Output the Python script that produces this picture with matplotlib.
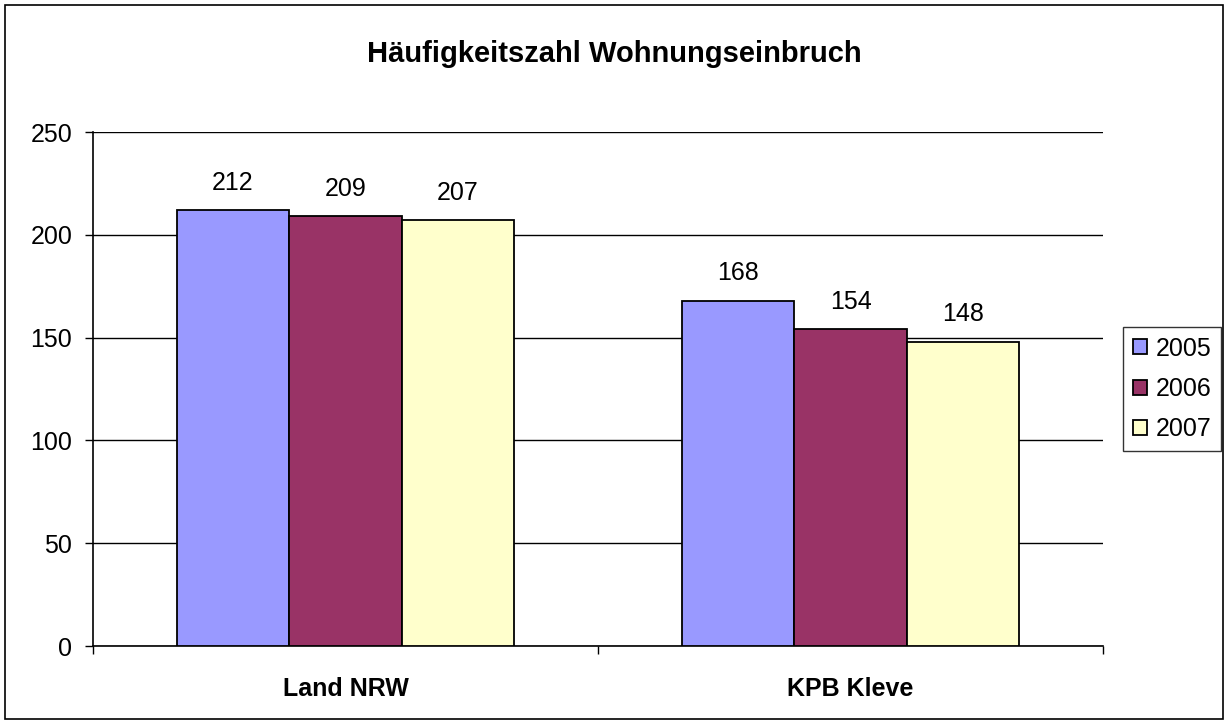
import matplotlib
matplotlib.use("Agg")
import matplotlib.pyplot as plt
from matplotlib.patches import Rectangle
import numpy as np

categories = ["Land NRW", "KPB Kleve"]
years = ["2005", "2006", "2007"]
values_2005 = [212, 168]
values_2006 = [209, 154]
values_2007 = [207, 148]
colors = ["#9999FF", "#993366", "#FFFFCC"]

plt.rcParams["font.family"] = ["Liberation Sans", "DejaVu Sans"]
fs = 18

fig = plt.figure(figsize=(12.28, 7.24), dpi=100)
ax = fig.add_axes([93 / 1228, 1 - 646 / 724, (1103 - 93) / 1228, (646 - 132) / 724])

x = np.arange(len(categories))
w = 0.2228
for i, (vals, yr, col) in enumerate(zip([values_2005, values_2006, values_2007], years, colors)):
    bars = ax.bar(x + (i - 1) * w, vals, w, color=col, edgecolor="black", linewidth=1.3,
                  label=yr, zorder=3)
    for b, v in zip(bars, vals):
        ax.annotate(f"{v}", (b.get_x() + b.get_width() / 2, v), xytext=(0, 11),
                    textcoords="offset points", ha="center", va="bottom", fontsize=fs)

ax.set_xlim(-0.5, 1.5)
ax.set_ylim(0, 250)
ax.set_yticks(range(0, 251, 50))
ax.yaxis.grid(True, color="black", linewidth=1, zorder=0)
ax.set_axisbelow(True)
ax.set_xticks(x)
ax.set_xticklabels(categories, fontsize=fs, fontweight="bold")
ax.set_xticks([-0.5, 0.5, 1.5], minor=True)
ax.tick_params(axis="x", which="major", length=0, pad=22)
ax.tick_params(axis="x", which="minor", length=6, width=1, direction="out")
ax.tick_params(axis="y", length=6, width=1, labelsize=fs, pad=9)
for s in ["top", "right"]:
    ax.spines[s].set_visible(False)
ax.spines["left"].set_linewidth(1.2)
ax.spines["bottom"].set_linewidth(1.2)

fig.suptitle("Häufigkeitszahl Wohnungseinbruch", fontsize=21, fontweight="bold", y=0.945)

leg = ax.legend(loc="center left", bbox_to_anchor=(1.0198, 0.5), fontsize=fs,
                frameon=True, fancybox=False, edgecolor="black", handlelength=0.55,
                handleheight=0.55, handletextpad=0.35, labelspacing=0.65, borderpad=0.4,
                borderaxespad=0)
leg.get_frame().set_linewidth(1)

fig.patches.append(Rectangle((5 / 1228, 5 / 724), 1218 / 1228, 714 / 724, transform=fig.transFigure,
                             fill=False, edgecolor="black", linewidth=1.2))

fig.savefig("out.png", dpi=100)
